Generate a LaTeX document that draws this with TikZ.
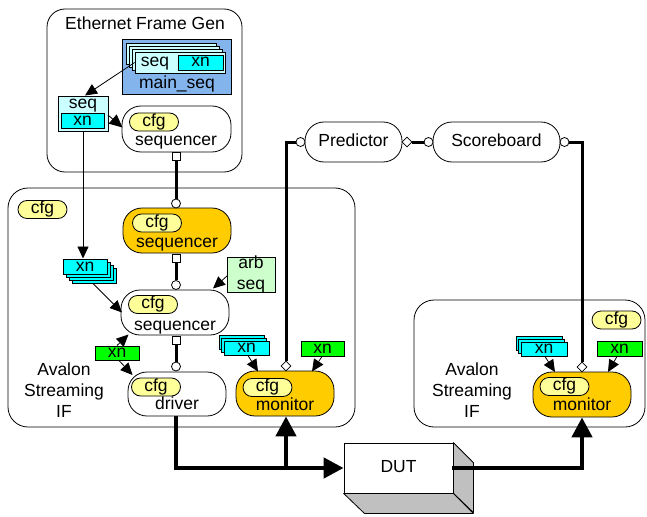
\documentclass[tikz,border=0pt]{standalone}
\usepackage{fontspec}
\setmainfont{Liberation Sans}
\usetikzlibrary{arrows.meta,shapes.geometric}

\definecolor{orng}{HTML}{FFCC00}
\definecolor{cfgyel}{HTML}{FFFF99}
\definecolor{xncyan}{HTML}{00FFFF}
\definecolor{pagecyan}{HTML}{CCFFFF}
\definecolor{arbgreen}{HTML}{CCFFCC}
\definecolor{xngreen}{HTML}{00FF00}
\definecolor{seqblue}{HTML}{84B4EC}
\definecolor{dutgray}{HTML}{C0C0C0}

\tikzset{
  lbl/.style={font=\fontsize{17.5}{21}\selectfont, inner sep=0pt, text height=12.4pt, text depth=3.6pt},
  mlbl/.style={font=\fontsize{17.5}{21}\selectfont, inner sep=0pt, align=center},
  frame/.style={draw, line width=0.8pt, rounded corners=18pt, inner sep=0pt},
  comp/.style={draw, line width=0.8pt, rounded corners=19pt, fill=white, inner sep=0pt},
  hot/.style={comp, fill=orng},
  pill/.style={draw, line width=0.8pt, rounded corners=19pt, fill=white, inner sep=0pt, minimum height=40pt, lbl},
  cfgpill/.style={draw, line width=0.8pt, rounded corners=9pt, fill=cfgyel, minimum width=49pt, minimum height=18pt, lbl},
  xnbox/.style={draw, line width=0.7pt, fill=xncyan, minimum width=44pt, minimum height=15pt, lbl, text height=11pt, text depth=2pt},
  xngbox/.style={xnbox, fill=xngreen},
  page/.style={draw, line width=0.7pt, fill=pagecyan, inner sep=0pt},
  sqport/.style={draw, line width=0.8pt, fill=white, minimum size=8pt, inner sep=0pt},
  ciport/.style={draw, line width=0.8pt, fill=white, circle, minimum size=9pt, inner sep=0pt},
  diport/.style={draw, line width=0.8pt, fill=white, diamond, minimum size=10pt, inner sep=0pt},
  thin arrow/.style={line width=0.8pt, -{Triangle[length=12pt,width=11pt]}},
  bus/.style={line width=3pt},
  bigbus/.style={line width=4.5pt},
  bigarrow/.style={line width=4.5pt, -{Triangle[length=20pt,width=20pt]}},
}

\begin{document}
\begin{tikzpicture}[x=1pt,y=-1pt]
\useasboundingbox (0,0) rectangle (647,516);

% ---------------- Ethernet frame generator ----------------
\node[frame, minimum width=195pt, minimum height=163pt] (efg) at (144.5,90.5) {};
\node[lbl] (efgtitle) at (145,25.5) {Ethernet Frame Gen};

\node[draw, line width=0.8pt, fill=seqblue, minimum width=109pt, minimum height=55pt, inner sep=0pt] (mainseq) at (176.5,66.5) {};
\foreach \i in {3,2,1}
  \node[page, minimum width=90pt, minimum height=21pt] (mpage\i) at ({180-3*\i},{62.5-3*\i}) {};
\node[page, minimum width=90pt, minimum height=21pt] (mpage) at (180,62.5) {};
\node[lbl] (mpageseq) at (155,62.5) {seq};
\node[xnbox, minimum width=45pt] (mpagexn) at (200.5,62.5) {xn};
\node[lbl] (mainseqtxt) at (177,84) {main\_seq};

\node[page, minimum width=50pt, minimum height=35pt] (seqxn) at (83,113.5) {};
\node[lbl] (seqxnseq) at (83,104.5) {seq};
\node[xnbox, minimum width=43pt] (seqxnxn) at (82.5,120.5) {xn};

\node[comp, minimum width=109pt, minimum height=46pt] (seqA) at (176.5,129) {};
\node[cfgpill] (seqAcfg) at (154,122) {cfg};
\node[lbl] (seqAtxt) at (176,141.5) {sequencer};
\node[sqport] (seqAport) at (176,156) {};

% ---------------- left Avalon Streaming IF ----------------
\node[frame, rounded corners=20pt, minimum width=347pt, minimum height=239pt] (avl) at (181.5,307.5) {};
\node[cfgpill] (avlcfg) at (42.5,209.5) {cfg};
\node[mlbl] (avltxt) at (64,390) {Avalon\\Streaming\\IF};

\node[hot, minimum width=108pt, minimum height=45pt] (seqB) at (177,230.5) {};
\node[cfgpill] (seqBcfg) at (157,223) {cfg};
\node[lbl] (seqBtxt) at (177,243.5) {sequencer};
\node[ciport] (seqBin) at (176,203.5) {};
\node[sqport] (seqBport) at (176,258.5) {};

\node[comp, minimum width=108pt, minimum height=45pt] (seqC) at (175,312.5) {};
\node[cfgpill] (seqCcfg) at (153,304.5) {cfg};
\node[lbl] (seqCtxt) at (175,326) {sequencer};
\node[ciport] (seqCin) at (176,285) {};
\node[sqport] (seqCport) at (176,340) {};

\node[draw, line width=0.7pt, fill=arbgreen, minimum width=48pt, minimum height=35pt, inner sep=0pt] (arb) at (251,274.5) {};
\node[mlbl] (arbtxt) at (251,274.5) {arb\\seq};

\foreach \i in {3,2,1}
  \node[xnbox] (lstk\i) at ({85+3*\i},{266.5+3*\i}) {};
\node[xnbox] (lstk) at (85,266.5) {xn};

\node[xngbox, minimum height=14pt] (lgxn) at (117,353) {xn};

\node[comp, minimum width=98pt, minimum height=44pt] (drv) at (177,394) {};
\node[cfgpill] (drvcfg) at (156,387) {cfg};
\node[lbl] (drvtxt) at (177,405.5) {driver};
\node[ciport] (drvin) at (176,366.5) {};

\node[hot, minimum width=98pt, minimum height=45pt] (monL) at (285,393.5) {};
\node[cfgpill] (monLcfg) at (267.5,387.5) {cfg};
\node[lbl] (monLtxt) at (285,406) {monitor};
\node[diport] (monLap) at (286,366) {};

\foreach \i in {2,1}
  \node[xnbox, minimum width=45pt, minimum height=14pt] (mstkL\i) at ({246.5-2.5*\i},{348-3*\i}) {};
\node[xnbox, minimum width=45pt, minimum height=14pt] (mstkL) at (246.5,348) {xn};
\node[xngbox, minimum width=43pt] (mgxnL) at (322.5,348.5) {xn};

% ---------------- analysis components ----------------
\node[pill, minimum width=97pt] (pred) at (353.5,142) {Predictor};
\node[ciport] (predin) at (300.5,142) {};
\node[diport] (predap) at (407,142) {};
\node[pill, minimum width=127pt] (sb) at (496.5,142) {Scoreboard};
\node[ciport] (sbin) at (428.5,142) {};
\node[ciport] (sbout) at (564.5,142) {};

% ---------------- right Avalon Streaming IF ----------------
\node[frame, rounded corners=20pt, minimum width=231pt, minimum height=127pt] (avr) at (529.5,363.5) {};
\node[cfgpill] (avrcfg) at (616.5,320) {cfg};
\node[mlbl] (avrtxt) at (472,390) {Avalon\\Streaming\\IF};

\node[hot, minimum width=98pt, minimum height=45pt] (monR) at (582,394.5) {};
\node[cfgpill] (monRcfg) at (564.5,386.5) {cfg};
\node[lbl] (monRtxt) at (582,406.5) {monitor};
\node[diport] (monRap) at (582,367) {};

\foreach \i in {2,1}
  \node[xnbox, minimum width=46pt, minimum height=14pt] (mstkR\i) at ({544-2.5*\i},{349-3*\i}) {};
\node[xnbox, minimum width=46pt, minimum height=14pt] (mstkR) at (544,349) {xn};
\node[xngbox, minimum width=45pt] (mgxnR) at (619.5,348.5) {xn};

% ---------------- DUT block ----------------
\node[draw, line width=0.8pt, fill=white, minimum width=109pt, minimum height=50pt, inner sep=0pt] (dut) at (398.5,468) {};
\fill[dutgray, draw=black, line width=0.8pt, line join=round]
  (dut.north east) -- ++(20,20) -- ++(0,50) -- (dut.south east) -- cycle;
\fill[dutgray, draw=black, line width=0.8pt, line join=round]
  (dut.south west) -- (dut.south east) -- ++(20,20) -- ++(-109,0) -- cycle;
\node[lbl] (duttxt) at (dut.center) {DUT};

% ---------------- connectors ----------------
\draw[thin arrow] (mpage.west) -- (85,95.5);
\draw[thin arrow, -{Triangle[length=13pt,width=12pt]}] (108,115) -- (122.5,127.5);
\draw[thin arrow] (seqxn.south -| 83,0) -- (83,258.5);

\draw[bus] (seqAport.south) -- (seqBin.north);
\draw[bus] (seqBport.south) -- (seqCin.north);
\draw[bus] (seqCport.south) -- (drvin.north);

\draw[thin arrow] (93,283.5) -- (122,312.5);
\draw[thin arrow] (227,276) -- (213,288.5);
\draw[thin arrow] (117,345.5) -- (128.5,334.5);
\draw[thin arrow] (119,360.5) -- (132.5,375);

\draw[thin arrow] (248,355.5) -- (258,371.5);
\draw[thin arrow] (322,356.5) -- (312,371.5);
\draw[thin arrow] (545,356.5) -- (555,372);
\draw[thin arrow] (617,356.5) -- (608,372);

\draw[bus, line join=miter] (monLap.north) -- (286,142) -- (predin.west);
\draw[bus] (predap.east) -- (sbin.west);
\draw[bus, line join=miter] (sbout.east) -- (582,142) -- (monRap.north);

\draw[bigbus, line join=miter] (drv.south -| 176,0) -- (176,468) -- (286,468);
\draw[bigarrow] (286,470.25) -- (monL.south -| 286,0);
\draw[bigarrow] (284,468) -- (dut.west);
\draw[bigbus, line join=miter] (452,468) -- (582,468) -- (582,440);
\draw[bigarrow] (582,442) -- (monR.south);
\end{tikzpicture}
\end{document}
